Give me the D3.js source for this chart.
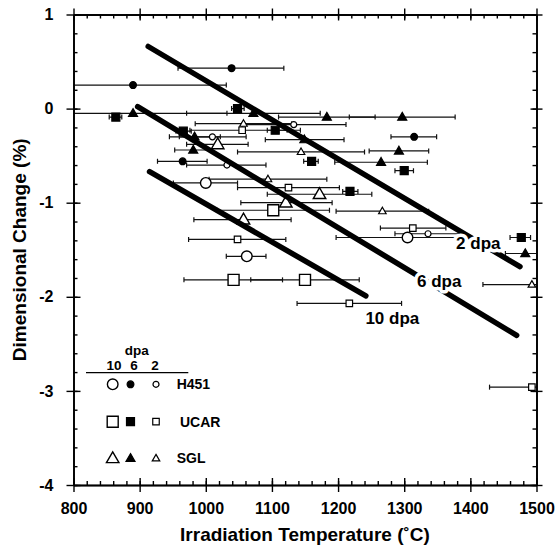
<!DOCTYPE html>
<html>
<head>
<meta charset="utf-8">
<script src="https://cdn.jsdelivr.net/npm/d3@7"></script>
<style>
  body { margin: 0; background: #fff; }
  text { font-family: "Liberation Sans", Arial, Helvetica, sans-serif; font-weight: bold; fill: #000; }
</style>
</head>
<body>
<svg id="chart" width="558" height="549"></svg>
<script>
// tick labels
var xTicks = [800, 900, 1000, 1100, 1200, 1300, 1400, 1500];
var yTicks = [1, 0, -1, -2, -3, -4];

// [temperature, dimensional change, temp low, temp high]
var h451_10 = [[1000, -0.79, 951, 1048], [1062, -1.57, 1031, 1091], [1305, -1.37, 1197, 1414]];
var h451_6 = [[1039, 0.43, 958, 1118], [890, 0.25, 750, 1031], [965, -0.56, 927, 1002], [1315, -0.30, 1280, 1349]];
var h451_2 = [[1133, -0.17, 1055, 1212], [1010, -0.30, 960, 1061], [1032, -0.60, 971, 1091], [1336, -1.33, 1286, 1385]];

var ucar_10 = [[1102, -1.08, 1017, 1187], [1042, -1.82, 967, 1116], [1150, -1.82, 1068, 1232]];
var ucar_6 = [[864, -0.09, 854, 873], [1048, 0.0, 1039, 1058], [966, -0.24, 955, 978], [1105, -0.23, 1093, 1123],
              [1160, -0.56, 1148, 1170], [1300, -0.66, 1286, 1314], [1218, -0.88, 1207, 1230], [1477, -1.37, 1460, 1491]];
var ucar_2 = [[1055, -0.23, 976, 1143], [1125, -0.84, 1048, 1202], [1048, -1.39, 974, 1121], [1313, -1.27, 1264, 1363],
              [1217, -2.07, 1138, 1296], [1493, -2.96, 1429, 1557]];

var sgl_10 = [[1018, -0.38, 971, 1064], [1121, -1.0, 1053, 1191], [1057, -1.18, 982, 1129], [1172, -0.91, 1093, 1251]];
var sgl_6 = [[890, -0.05, 749, 1032], [1072, -0.05, 971, 1173], [1183, -0.09, 1110, 1256], [1297, -0.09, 1217, 1377],
             [983, -0.30, 945, 1022], [981, -0.44, 953, 1010], [1149, -0.33, 1090, 1209], [1292, -0.45, 1247, 1337],
             [1265, -0.57, 1195, 1335], [1483, -1.54, 1453, 1513]];
var sgl_2 = [[1057, -0.16, 984, 1130], [1094, -0.75, 1005, 1183], [1144, -0.46, 1048, 1240], [1267, -1.09, 1197, 1337],
             [1493, -1.87, 1419, 1567]];

// fitted trend lines per dose
var trendNames = ['2 dpa', '6 dpa', '10 dpa'];
var trendStart = [[913, 0.66], [897, 0.02], [915, -0.67]];
var trendEnd = [[1475, -1.68], [1470, -2.41], [1242, -1.99]];
var trendLabelAt = [[1412, -1.43], [1353, -1.83], [1282, -2.22]];

var materials = ['H451', 'UCAR', 'SGL'];
var doses = [10, 6, 2];

var series = [
  {mat: 'H451', dpa: 10, pts: h451_10}, {mat: 'H451', dpa: 6, pts: h451_6}, {mat: 'H451', dpa: 2, pts: h451_2},
  {mat: 'UCAR', dpa: 10, pts: ucar_10}, {mat: 'UCAR', dpa: 6, pts: ucar_6}, {mat: 'UCAR', dpa: 2, pts: ucar_2},
  {mat: 'SGL', dpa: 10, pts: sgl_10}, {mat: 'SGL', dpa: 6, pts: sgl_6}, {mat: 'SGL', dpa: 2, pts: sgl_2}
];

var L = 73.5, R = 536.5, T = 14.5, B = 485;
var svg = d3.select('#chart');
var x = d3.scaleLinear().domain([800, 1500]).range([L, R]);
var y = d3.scaleLinear().domain([-4, 1]).range([B, T]);

svg.append('defs').append('clipPath').attr('id', 'plot')
  .append('rect').attr('x', L).attr('y', T).attr('width', R - L).attr('height', B - T);

// marker shapes
var shapeOf = {H451: 'circle', UCAR: 'square', SGL: 'triangle'};
var sizeOf = {
  circle: {10: 5.3, 6: 3.4, 2: 3},
  square: {10: 11, 6: 8, 2: 6.5},
  triangle: {10: 12.5, 6: 9, 2: 7.5}
};
function markerPath(shape, s) {
  if (shape === 'circle') {
    return 'M' + (-s) + ',0A' + s + ',' + s + ' 0 1,0 ' + s + ',0A' + s + ',' + s + ' 0 1,0 ' + (-s) + ',0Z';
  }
  if (shape === 'square') {
    var h = s / 2;
    return 'M' + (-h) + ',' + (-h) + 'H' + h + 'V' + h + 'H' + (-h) + 'Z';
  }
  var hh = s * Math.sqrt(3) / 2;
  return 'M0,' + (-hh * 0.6) + 'L' + (s / 2) + ',' + (hh * 0.4) + 'L' + (-s / 2) + ',' + (hh * 0.4) + 'Z';
}
function drawMarker(g, mat, dpa) {
  var shape = shapeOf[mat];
  var filled = dpa === 6;
  g.append('path')
    .attr('d', markerPath(shape, sizeOf[shape][dpa]))
    .attr('fill', filled ? '#000' : '#fff')
    .attr('stroke', '#000')
    .attr('stroke-width', dpa === 10 ? 1.4 : 1.2);
}

// error bars
var bars = svg.append('g').attr('clip-path', 'url(#plot)');
series.forEach(function (s) {
  s.pts.forEach(function (p) {
    var g = bars.append('g').attr('stroke', '#111').attr('stroke-width', 1.2);
    g.append('line').attr('x1', x(p[2])).attr('x2', x(p[3])).attr('y1', y(p[1])).attr('y2', y(p[1]));
    [p[2], p[3]].forEach(function (v) {
      g.append('line').attr('x1', x(v)).attr('x2', x(v)).attr('y1', y(p[1]) - 2.5).attr('y2', y(p[1]) + 2.5);
    });
  });
});

// markers
var marks = svg.append('g');
series.forEach(function (s) {
  s.pts.forEach(function (p) {
    var g = marks.append('g').attr('transform', 'translate(' + x(p[0]) + ',' + y(p[1]) + ')');
    drawMarker(g, s.mat, s.dpa);
  });
});

// trend lines
var line = d3.line().x(function (d) { return x(d[0]); }).y(function (d) { return y(d[1]); });
trendNames.forEach(function (name, i) {
  svg.append('path').attr('d', line([trendStart[i], trendEnd[i]]))
    .attr('stroke', '#000').attr('stroke-width', 5.5).attr('stroke-linecap', 'round').attr('fill', 'none');
});
trendNames.forEach(function (name, i) {
  svg.append('text').attr('x', x(trendLabelAt[i][0])).attr('y', y(trendLabelAt[i][1]) + 6)
    .attr('text-anchor', 'middle').attr('font-size', 17)
    .attr('stroke', '#fff').attr('stroke-width', 7).attr('paint-order', 'stroke').attr('stroke-linejoin', 'round')
    .text(name);
});

// axes
var xMinor = d3.range(800, 1501, 20);
var yMinor = d3.range(-4, 1.001, 0.2);
function addAxis(make, tr, vals, size, fmt, pad) {
  var a = make.tickValues(vals).tickSizeInner(size).tickSizeOuter(0).tickFormat(fmt || '');
  if (pad !== undefined) a.tickPadding(pad);
  var g = svg.append('g').attr('transform', tr).call(a);
  g.selectAll('line').attr('stroke', '#000').attr('stroke-width', 1.4);
  g.select('.domain').attr('stroke', '#000').attr('stroke-width', 1.4);
  g.selectAll('text').attr('font-size', 16).attr('font-family', null);
  return g;
}
var fmt = function (d) { return String(d); };
addAxis(d3.axisBottom(x), 'translate(0,' + B + ')', xMinor, -4);
addAxis(d3.axisBottom(x), 'translate(0,' + B + ')', xTicks, -7);
addAxis(d3.axisBottom(x), 'translate(0,' + B + ')', xTicks, 7, fmt, 11);
addAxis(d3.axisTop(x), 'translate(0,' + T + ')', xMinor, -4);
addAxis(d3.axisTop(x), 'translate(0,' + T + ')', xTicks, -6);
addAxis(d3.axisTop(x), 'translate(0,' + T + ')', xTicks, 6);
addAxis(d3.axisLeft(y), 'translate(' + L + ',0)', yMinor, -4);
addAxis(d3.axisLeft(y), 'translate(' + L + ',0)', yTicks, -7);
addAxis(d3.axisLeft(y), 'translate(' + L + ',0)', yTicks, 7, fmt, 13);
addAxis(d3.axisRight(y), 'translate(' + R + ',0)', yMinor, -4);
addAxis(d3.axisRight(y), 'translate(' + R + ',0)', yTicks, -6);
addAxis(d3.axisRight(y), 'translate(' + R + ',0)', yTicks, 6);

// axis titles
svg.append('text').attr('x', (L + R) / 2).attr('y', 541).attr('text-anchor', 'middle')
  .attr('font-size', 19).text('Irradiation Temperature (˚C)');
svg.append('text').attr('transform', 'translate(26,' + ((T + B) / 2) + ') rotate(-90)')
  .attr('text-anchor', 'middle').attr('font-size', 19).text('Dimensional Change (%)');

// legend
var lg = svg.append('g');
var colX = [112.7, 130.5, 156];
var rowY = [384.3, 421.7, 458.3];
lg.append('text').attr('x', 136.7).attr('y', 354.5).attr('text-anchor', 'middle').attr('font-size', 13.5).text('dpa');
doses.forEach(function (d, i) {
  lg.append('text').attr('x', [114, 134, 155][i]).attr('y', 369.5).attr('text-anchor', 'middle')
    .attr('font-size', 13.5).text(d);
});
lg.append('line').attr('x1', 86).attr('x2', 188.3).attr('y1', 372.7).attr('y2', 372.7)
  .attr('stroke', '#000').attr('stroke-width', 1.3);
materials.forEach(function (m, r) {
  doses.forEach(function (d, c) {
    var g = lg.append('g').attr('transform', 'translate(' + colX[c] + ',' + rowY[r] + ')');
    drawMarker(g, m, d);
  });
  lg.append('text').attr('x', [176.7, 180, 176.7][r]).attr('y', rowY[r] + 5)
    .attr('font-size', 14).text(m);
});
</script>
</body>
</html>
